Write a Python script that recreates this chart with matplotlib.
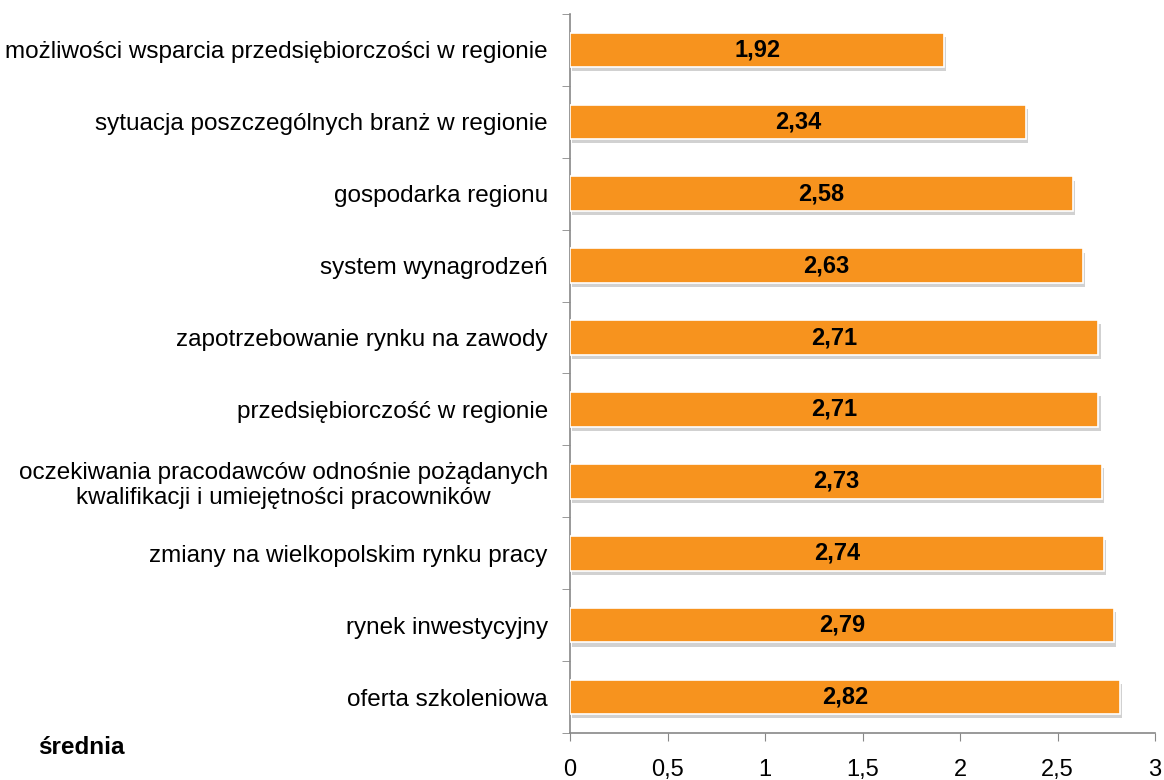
import matplotlib
matplotlib.use("Agg")
import matplotlib.pyplot as plt
import matplotlib.patheffects as pe
from matplotlib.ticker import FixedLocator, FuncFormatter

categories = [
    "możliwości wsparcia przedsiębiorczości w regionie",
    "sytuacja poszczególnych branż w regionie",
    "gospodarka regionu",
    "system wynagrodzeń",
    "zapotrzebowanie rynku na zawody",
    "przedsiębiorczość w regionie",
    "oczekiwania pracodawców odnośnie pożądanych\nkwalifikacji i umiejętności pracowników",
    "zmiany na wielkopolskim rynku pracy",
    "rynek inwestycyjny",
    "oferta szkoleniowa",
]
values = [1.92, 2.34, 2.58, 2.63, 2.71, 2.71, 2.73, 2.74, 2.79, 2.82]
xticks = [0, 0.5, 1, 1.5, 2, 2.5, 3]

plt.rcParams['font.family'] = ['Liberation Sans', 'DejaVu Sans']

fig = plt.figure(figsize=(11.64, 7.8), dpi=100)
ax = fig.add_axes([570/1164, 1-733/780, (1155-570)/1164, (733-14)/780])

pos = list(range(len(categories)))
bars = ax.barh(pos, values, height=0.48, color='#F7931E', edgecolor='white', linewidth=1.2, zorder=3)
for b in bars:
    b.set_path_effects([pe.SimplePatchShadow(offset=(1.5, -3), shadow_rgbFace='#999999', alpha=0.45), pe.Normal()])
for p, v in zip(pos, values):
    ax.text(v/2, p, f"{v:.2f}".replace('.', ','), ha='center', va='center',
            fontsize=17, fontweight='bold', color='black', zorder=4)

ax.set_xlim(0, 3)
ax.set_ylim(len(categories)-0.5, -0.5)
ax.set_xticks(xticks)
ax.xaxis.set_major_formatter(FuncFormatter(lambda x, _: f"{x:g}".replace('.', ',')))
ax.set_yticks(pos)
ax.set_yticklabels(categories, fontsize=17.5, ha='right', multialignment='center')
ax.tick_params(axis='y', length=0, pad=16)
ax.yaxis.set_minor_locator(FixedLocator([i - 0.5 for i in range(len(categories)+1)]))
ax.tick_params(axis='y', which='minor', length=6, color='#888888', direction='out')
ax.tick_params(axis='x', length=6, color='#888888', direction='out', labelsize=17, pad=13)

for s in ['top', 'right']:
    ax.spines[s].set_visible(False)
for s in ['left', 'bottom']:
    ax.spines[s].set_color('#888888')
    ax.spines[s].set_linewidth(1.2)

fig.text(38/1164, 1-748/780, "średnia", fontsize=17.5, fontweight='bold', va='center', ha='left')

fig.savefig("out.png", dpi=100)
